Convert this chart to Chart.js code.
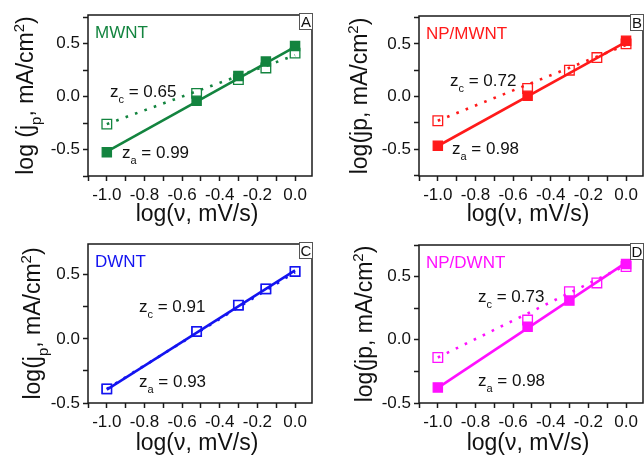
<!DOCTYPE html>
<html>
<head>
<meta charset="utf-8">
<script src="https://cdn.jsdelivr.net/npm/chart.js@4.4.1/dist/chart.umd.min.js"></script>
<style>
    html, body { margin: 0; padding: 0; background: #fff; }
    body { width: 644px; height: 457px; overflow: hidden; position: relative; }
    .panel { position: absolute; width: 331px; height: 229px; }
</style>
</head>
<body>
<div class="panel" style="left:0;top:0"><canvas id="panelA" width="331" height="229"></canvas></div>
<div class="panel" style="left:331px;top:0"><canvas id="panelB" width="331" height="229"></canvas></div>
<div class="panel" style="left:0;top:229px"><canvas id="panelC" width="331" height="229"></canvas></div>
<div class="panel" style="left:331px;top:229px"><canvas id="panelD" width="331" height="229"></canvas></div>
<script>

// Scan rates, log(v, mV/s)
const logRate = [-1.0, -0.523, -0.301, -0.155, 0.0];

// Peak currents, log(jp, mA/cm2): anodic (filled) and cathodic (open).
// null = point hidden behind the open marker in the figure.
const mwntAnodic     = [-0.525, -0.04, 0.195, 0.33, 0.478];
const mwntCathodic   = [-0.26, 0.03, 0.16, 0.27, 0.41];
const npMwntAnodic   = [-0.467, 0.007, null, null, 0.53];
const npMwntCathodic = [-0.23, 0.076, 0.25, 0.37, 0.50];
const dwntAnodic     = [-0.39, 0.058, 0.263, 0.39, 0.526];
const dwntCathodic   = [-0.39, 0.058, 0.263, 0.39, 0.526];
const npDwntAnodic   = [-0.377, 0.104, 0.31, null, 0.60];
const npDwntCathodic = [-0.14, 0.156, 0.38, 0.45, 0.58];

// Linear fits, drawn from x = -1 to x = 0
const fitRange          = [-1.0, 0.0];
const mwntAnodicFit     = [-0.52, 0.47];
const mwntCathodicFit   = [-0.26, 0.39];
const npMwntAnodicFit   = [-0.47, 0.52];
const npMwntCathodicFit = [-0.23, 0.49];
const dwntAnodicFit     = [-0.395, 0.535];
const dwntCathodicFit   = [-0.39, 0.52];
const npDwntAnodicFit   = [-0.38, 0.61];
const npDwntCathodicFit = [-0.14, 0.59];

// Slopes printed on the panels
const panelNames = ['MWNT', 'NP/MWNT', 'DWNT', 'NP/DWNT'];
const panelLetters = ['A', 'B', 'C', 'D'];
const zAnodic = ['0.99', '0.98', '0.93', '0.98'];
const zCathodic = ['0.65', '0.72', '0.91', '0.73'];

// Ticks
const xMajorTicks = [-1.0, -0.8, -0.6, -0.4, -0.2, 0.0];
const xMinorTicks = [-1.1, -0.9, -0.7, -0.5, -0.3, -0.1];
const yMajorTicks = [-0.5, 0.0, 0.5];
const yMinorTicks = [-0.75, -0.25, 0.25, 0.75];

const FONT = '"Liberation Sans", Arial, Helvetica, sans-serif';

const panels = [
    { id: 'panelA', color: '#13843f', anodic: mwntAnodic, cathodic: mwntCathodic,
      anodicFit: mwntAnodicFit, cathodicFit: mwntCathodicFit, filled: true,
      yMin: -0.75, yMax: 0.77, top: 15, bottom: 176, yTitleX: 33,
      yTitle: [['log (j'], ['p', 'sub'], [', mA/cm'], ['2', 'sup'], [')']],
      zcPos: [22, 82], zaPos: [34, 143] },
    { id: 'panelB', color: '#ff1a1a', anodic: npMwntAnodic, cathodic: npMwntCathodic,
      anodicFit: npMwntAnodicFit, cathodicFit: npMwntCathodicFit, filled: true,
      yMin: -0.755, yMax: 0.765, top: 16, bottom: 176, yTitleX: 36,
      yTitle: [['log(jp, mA/cm'], ['2', 'sup'], [')']],
      zcPos: [31, 70], zaPos: [33, 138] },
    { id: 'panelC', color: '#1414f0', anodic: dwntAnodic, cathodic: dwntCathodic,
      anodicFit: dwntAnodicFit, cathodicFit: dwntCathodicFit, filled: false,
      yMin: -0.5, yMax: 0.74, top: 15, bottom: 174, yTitleX: 40,
      yTitle: [['log(j'], ['p', 'sub'], [', mA/cm'], ['2', 'sup'], [')']],
      zcPos: [51, 68], zaPos: [51, 143] },
    { id: 'panelD', color: '#ff10ff', anodic: npDwntAnodic, cathodic: npDwntCathodic,
      anodicFit: npDwntAnodicFit, cathodicFit: npDwntCathodicFit, filled: true,
      yMin: -0.5, yMax: 0.75, top: 16, bottom: 174, yTitleX: 41,
      yTitle: [['log(jp, mA/cm'], ['2', 'sup'], [')']],
      zcPos: [59, 57], zaPos: [59, 141] }
];

// Draw text made of parts, some as sub- or superscripts
function drawParts(ctx, parts, x, y, size, centered) {
    var small = Math.round(size * 0.65);
    var widths = parts.map(function (p) {
        ctx.font = (p[1] ? small : size) + 'px ' + FONT;
        return ctx.measureText(p[0]).width;
    });
    var total = widths.reduce(function (s, w) { return s + w; }, 0);
    var cx = centered ? x - total / 2 : x;
    parts.forEach(function (p, i) {
        var dy = 0;
        if (p[1] === 'sub') dy = size * 0.33;
        if (p[1] === 'sup') dy = -size * 0.4;
        ctx.font = (p[1] ? small : size) + 'px ' + FONT;
        ctx.fillText(p[0], cx, y + dy);
        cx += widths[i];
    });
}

const panelDecor = {
    id: 'panelDecor',
    afterDraw(chart, args, opts) {
        const ctx = chart.ctx;
        const a = chart.chartArea;
        const p = opts.panel;
        const n = opts.index;

        ctx.save();

        // Frame
        ctx.strokeStyle = '#1a1a1a';
        ctx.lineWidth = 1.5;
        ctx.strokeRect(a.left, a.top, a.right - a.left, a.bottom - a.top);

        ctx.textAlign = 'left';
        ctx.textBaseline = 'alphabetic';

        // Sample name
        ctx.fillStyle = p.color;
        ctx.font = '17px ' + FONT;
        ctx.fillText(panelNames[n], a.left + 7, a.top + 23);

        // Slopes
        ctx.fillStyle = '#111';
        drawParts(ctx, [['z'], ['c', 'sub'], [' = ' + zCathodic[n]]], a.left + p.zcPos[0], a.top + p.zcPos[1], 17, false);
        drawParts(ctx, [['z'], ['a', 'sub'], [' = ' + zAnodic[n]]], a.left + p.zaPos[0], a.top + p.zaPos[1], 17, false);

        // Axis titles
        drawParts(ctx, [['log(ν, mV/s)']], 197, 221, 23, true);
        ctx.save();
        ctx.translate(p.yTitleX, (a.top + a.bottom) / 2);
        ctx.rotate(-Math.PI / 2);
        drawParts(ctx, p.yTitle, 0, 0, 23, true);
        ctx.restore();

        // Panel letter box
        ctx.fillStyle = '#fff';
        ctx.fillRect(a.right - 13, a.top - 2, 13, 16);
        ctx.strokeStyle = '#555';
        ctx.lineWidth = 1;
        ctx.strokeRect(a.right - 13 + 0.5, a.top - 2 + 0.5, 13, 16);
        ctx.fillStyle = '#111';
        ctx.font = '15px ' + FONT;
        ctx.textAlign = 'center';
        ctx.fillText(panelLetters[n], a.right - 6, a.top + 11.5);

        ctx.restore();
    }
};

function points(ys) {
    return logRate.map(function (x, i) { return { x: x, y: ys[i] }; })
        .filter(function (pt) { return pt.y !== null; });
}

function fitLine(ys) {
    return fitRange.map(function (x, i) { return { x: x, y: ys[i] }; });
}

function isMajor(v, list) {
    return list.some(function (m) { return Math.abs(m - v) < 1e-6; });
}

panels.forEach(function (p, n) {

    const ctx = document.getElementById(p.id);

    var data = {
        datasets: [
            {
                data: points(p.cathodic),
                pointStyle: 'rect',
                pointRadius: 6.8,
                pointBorderWidth: 1.3,
                borderColor: p.color,
                backgroundColor: 'rgba(0,0,0,0)',
                showLine: false,
                order: 0
            },
            {
                data: points(p.anodic),
                pointStyle: 'rect',
                pointRadius: 6.5,
                pointBorderWidth: 1.3,
                borderColor: p.color,
                backgroundColor: p.filled ? p.color : 'rgba(0,0,0,0)',
                showLine: false,
                order: 1
            },
            {
                data: fitLine(p.cathodicFit),
                showLine: true,
                borderColor: p.color,
                borderWidth: 2.6,
                borderDash: [2.6, 7.4],
                pointRadius: 0,
                order: 2
            },
            {
                data: fitLine(p.anodicFit),
                showLine: true,
                borderColor: p.color,
                borderWidth: 2.6,
                pointRadius: 0,
                order: 3
            }
        ]
    };

    var tickGrid = {
        drawOnChartArea: false,
        drawTicks: true,
        tickLength: 5,
        tickWidth: 1.5,
        tickColor: '#1a1a1a'
    };

    var options = {
        responsive: false,
        animation: false,
        devicePixelRatio: 1,
        layout: {
            padding: { left: 0, top: p.top, right: 331 - 312, bottom: 0 }
        },
        plugins: {
            legend: { display: false },
            tooltip: { enabled: false },
            panelDecor: { panel: p, index: n }
        },
        scales: {
            x: {
                type: 'linear',
                min: -1.1,
                max: 0.09,
                border: { display: false },
                grid: tickGrid,
                afterBuildTicks: function (scale) {
                    scale.ticks = xMajorTicks.concat(xMinorTicks).sort(function (a, b) { return a - b; })
                        .map(function (v) { return { value: v }; });
                },
                afterFit: function (scale) { scale.height = 229 - p.bottom; },
                ticks: {
                    autoSkip: false,
                    maxRotation: 0,
                    padding: 4,
                    color: '#111',
                    font: { family: FONT, size: 17 },
                    callback: function (v) { return isMajor(v, xMajorTicks) ? v.toFixed(1) : ''; }
                }
            },
            y: {
                type: 'linear',
                min: p.yMin,
                max: p.yMax,
                border: { display: false },
                grid: tickGrid,
                afterBuildTicks: function (scale) {
                    scale.ticks = yMajorTicks.concat(yMinorTicks)
                        .filter(function (v) { return v >= p.yMin - 1e-6 && v <= p.yMax + 1e-6; })
                        .sort(function (a, b) { return a - b; })
                        .map(function (v) { return { value: v }; });
                },
                afterFit: function (scale) { scale.width = 88; },
                ticks: {
                    autoSkip: false,
                    padding: 3,
                    color: '#111',
                    font: { family: FONT, size: 17 },
                    callback: function (v) { return isMajor(v, yMajorTicks) ? v.toFixed(1) : ''; }
                }
            }
        }
    };

    new Chart(ctx, { type: 'scatter', data: data, options: options, plugins: [panelDecor] });
});

</script>
</body>
</html>
